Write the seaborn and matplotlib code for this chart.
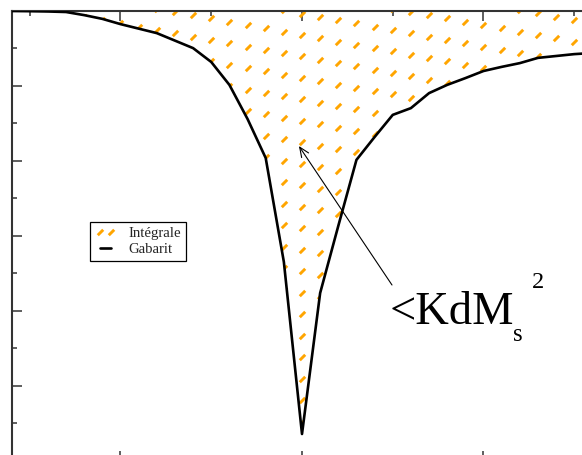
import numpy as np
import matplotlib
matplotlib.use("Agg")
import matplotlib.pyplot as plt
from matplotlib.path import Path
from matplotlib.lines import Line2D
import seaborn as sns

# Normalised frequency offset and template (gabarit) level
offset = [-1.6, -1.5, -1.4, -1.3, -1.2, -1.1, -1.0, -0.9, -0.8, -0.7, -0.6,
          -0.5, -0.4, -0.3, -0.2, -0.1, 0.0, 0.1, 0.2, 0.3, 0.4, 0.5, 0.6,
          0.7, 0.8, 0.9, 1.0, 1.1, 1.2, 1.3, 1.4, 1.5, 1.6]
gabarit = [0.0, -0.005, -0.013, -0.027, -0.11, -0.21, -0.35, -0.47, -0.59,
           -0.79, -0.99, -1.36, -1.97, -2.88, -3.92, -6.69, -11.28, -7.52,
           -5.73, -3.97, -3.36, -2.77, -2.59, -2.19, -1.97, -1.79, -1.60,
           -1.49, -1.39, -1.25, -1.20, -1.15, -1.12]

x_major = [-1.0, 0.0, 1.0]
x_minor = [-1.5, -0.5, 0.5, 1.5]
y_major = [-12, -10, -8, -6, -4, -2, 0]
y_minor = [-11, -9, -7, -5, -3, -1]

labels = ["Intégrale", "Gabarit"]
annotation = "<KdM"
sub_txt = "s"
sup_txt = "2"

ORANGE = "#FFA500"
AXCOL = "#333333"

sns.set_style("white")
plt.rcParams["font.family"] = ["Liberation Serif", "DejaVu Serif"]

W, H = 582, 455
fig = plt.figure(figsize=(W / 100, H / 100), dpi=100)

# axes extend past the canvas edges on the right and bottom
x_lo, x_hi = -1.6, 1.7
px_per_x = 181.5
left_px = 302 + x_lo * px_per_x
ax = fig.add_axes([left_px / W, (H - 461) / H,
                   (x_hi - x_lo) * px_per_x / W, 450 / H])
ax.set_xlim(x_lo, x_hi)
ax.set_ylim(-12, 0)

# region between the template and 0 dB
fill = ax.fill_between(offset, gabarit, 0, facecolor="none",
                       edgecolor="none", linewidth=0)
clip = fill.get_paths()[0]

# sparse orange dash texture inside that region
slash = Path([(-1, -1), (1, 1)], [Path.MOVETO, Path.LINETO])
cols = np.arange(-17, 18) * 0.1
tex_x, tex_y = [], []
for i, cx in enumerate(cols):
    k = i - 17
    base = -0.0667 - 0.088 * k
    for j in range(-3, 26):
        cy = base - j * 0.5733
        if -12.2 < cy < 0.4:
            tex_x.append(cx)
            tex_y.append(cy)
tex, = ax.plot(tex_x, tex_y, linestyle="none", marker=slash, markersize=3.9,
               markeredgewidth=2.1, color=ORANGE, zorder=2)
tex.set_clip_path(clip, ax.transData)

sns.lineplot(x=offset, y=gabarit, ax=ax, color="black", linewidth=1.9,
             sort=False, legend=False, zorder=3)

# frame and inward ticks, no labels
for side in ["left", "top", "right", "bottom"]:
    ax.spines[side].set_visible(True)
    ax.spines[side].set_color(AXCOL)
    ax.spines[side].set_linewidth(1.5)
ax.set_xticks(x_major)
ax.set_xticks(x_minor, minor=True)
ax.set_yticks(y_major)
ax.set_yticks(y_minor, minor=True)
ax.tick_params(which="both", direction="in", top=True, right=True,
               bottom=True, left=True, labelbottom=False, labelleft=False,
               labeltop=False, labelright=False, color=AXCOL)
ax.tick_params(which="major", length=7.5, width=1.1)
ax.tick_params(which="minor", length=3.6, width=1.1)
ax.set_xlabel("")
ax.set_ylabel("")

# legend
h_int = Line2D([], [], linestyle="none", marker=slash, markersize=3.9,
               markeredgewidth=2.1, color=ORANGE)
h_gab = Line2D([], [], color="black", linewidth=1.9)
leg = ax.legend([h_int, h_gab], labels, loc="upper left",
                bbox_to_anchor=(90 / W, 1 - 222 / H),
                bbox_transform=fig.transFigure, borderaxespad=0,
                fontsize=10.6, frameon=True, fancybox=False, framealpha=1,
                edgecolor="black", handlelength=1.4, handletextpad=0.85,
                labelspacing=0.15, borderpad=0.35, numpoints=2)
leg.get_frame().set_linewidth(0.9)

# annotation with arrow
ax.annotate("", xy=(-0.017, -3.6), xycoords="data",
            xytext=(392, H - 285), textcoords="figure pixels",
            arrowprops=dict(arrowstyle="->,head_length=0.7,head_width=0.3",
                            color="black", lw=0.8, shrinkA=0, shrinkB=0))
fig.text(390 / W, 1 - 324 / H, annotation, fontsize=33.5, ha="left",
         va="baseline", color="black")
fig.text(513 / W, 1 - 341 / H, sub_txt, fontsize=18, ha="left",
         va="baseline", color="black")
fig.text(532 / W, 1 - 288 / H, sup_txt, fontsize=17.5, ha="left",
         va="baseline", color="black")

fig.savefig("out.png", dpi=100)
